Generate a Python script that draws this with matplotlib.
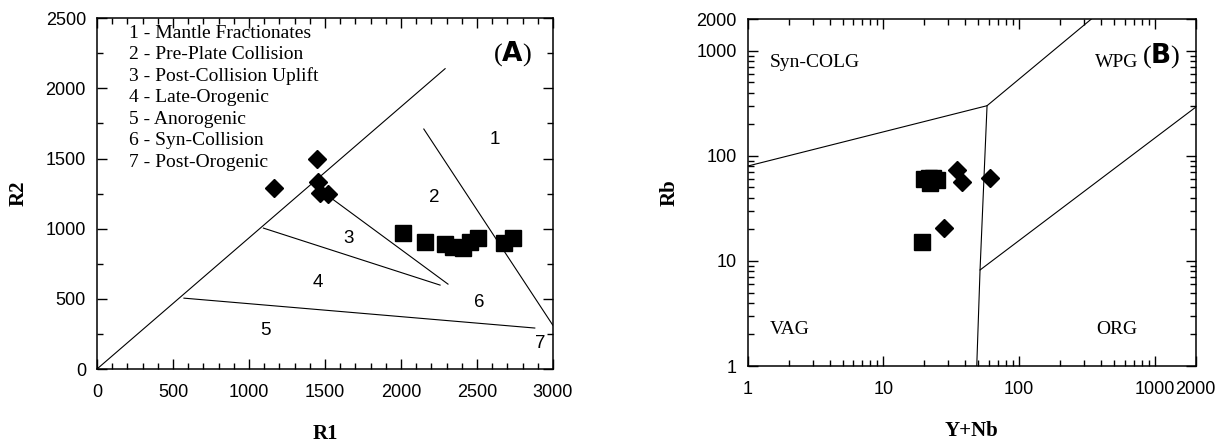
import matplotlib
matplotlib.use('Agg')
import matplotlib.pyplot as plt
from matplotlib.ticker import MultipleLocator, LogLocator, NullFormatter

plt.rcParams['font.family'] = ['Liberation Serif', 'DejaVu Serif']
plt.rcParams['mathtext.fontset'] = 'dejavusans'

# (A) R1-R2 diagram
sq_r1 = [2013, 2158, 2289, 2342, 2408, 2454, 2507, 2678, 2737]
sq_r2 = [969, 905, 890, 869, 862, 905, 933, 897, 933]
dm_r1 = [1165, 1447, 1454, 1467, 1520]
dm_r2 = [1289, 1495, 1332, 1254, 1246]

# field boundaries (R1, R2)
bnd_a = [
    ([0, 2290], [0, 2140]),
    ([2150, 3000], [1710, 310]),
    ([1450, 2309], [1290, 605]),
    ([1095, 2257], [1004, 598]),
    ([572, 2880], [505, 292]),
]
legend_a = ['1 - Mantle Fractionates', '2 - Pre-Plate Collision', '3 - Post-Collision Uplift',
            '4 - Late-Orogenic', '5 - Anorogenic', '6 - Syn-Collision', '7 - Post-Orogenic']
field_num = ['1', '2', '3', '4', '5', '6', '7']
field_x = [2618, 2217, 1658, 1454, 1105, 2513, 2914]
field_y = [1638, 1225, 933, 620, 278, 477, 185]

# (B) Y+Nb vs Rb
sq_ynb = [19.8, 21.5, 23.1, 24.7, 22.0, 19.2]
sq_rb = [60, 62, 61.5, 58.9, 55, 15.1]
dm_ynb = [34.7, 37.8, 60.7, 27.8]
dm_rb = [73.3, 56.3, 61.5, 20.6]
bnd_b = [
    ([1, 58, 340], [80, 300, 2000]),
    ([58, 51.5, 48.7], [300, 8.2, 1]),
    ([51.5, 2000], [8.2, 290]),
]
ticks_b = [1, 10, 100, 1000, 2000]

fig = plt.figure(figsize=(12.2, 4.43), dpi=100)

ax = fig.add_axes([0.0795, 0.167, 0.3738, 0.792])
for bx, by in bnd_a:
    ax.plot(bx, by, color='black', lw=0.8)
ax.plot(sq_r1, sq_r2, 's', color='black', ms=11, ls='none')
ax.plot(dm_r1, dm_r2, 'D', color='black', ms=9, ls='none')
ax.set_xlim(0, 3000)
ax.set_ylim(0, 2500)
ax.xaxis.set_major_locator(MultipleLocator(500))
ax.xaxis.set_minor_locator(MultipleLocator(100))
ax.yaxis.set_major_locator(MultipleLocator(500))
ax.yaxis.set_minor_locator(MultipleLocator(250))
for i, t in enumerate(legend_a):
    ax.text(0.07, 0.957 - i * 0.0612, t, transform=ax.transAxes, fontsize=14, va='center')
for n, fx, fy in zip(field_num, field_x, field_y):
    ax.text(fx, fy, n, fontsize=13.5, ha='center', va='center', family='Liberation Sans')
ax.text(0.912, 0.90, r'($\mathbf{A}$)', transform=ax.transAxes, fontsize=19, ha='center', va='center')
ax.set_xlabel('R1', fontsize=15, fontweight='bold', labelpad=16)
ax.set_ylabel('R2', fontsize=15, fontweight='bold', labelpad=12)

bx2 = fig.add_axes([0.613, 0.1738, 0.367, 0.783])
for bx, by in bnd_b:
    bx2.plot(bx, by, color='black', lw=0.8)
bx2.plot(sq_ynb, sq_rb, 's', color='black', ms=11, ls='none')
bx2.plot(dm_ynb, dm_rb, 'D', color='black', ms=9, ls='none')
bx2.set_xscale('log')
bx2.set_yscale('log')
bx2.set_xlim(1, 2000)
bx2.set_ylim(1, 2000)
bx2.set_xticks(ticks_b)
bx2.set_xticklabels([str(t) for t in ticks_b])
bx2.set_yticks(ticks_b)
bx2.set_yticklabels([str(t) for t in ticks_b])
bx2.xaxis.set_minor_locator(LogLocator(subs=range(2, 10)))
bx2.yaxis.set_minor_locator(LogLocator(subs=range(2, 10)))
bx2.xaxis.set_minor_formatter(NullFormatter())
bx2.yaxis.set_minor_formatter(NullFormatter())
bx2.text(0.049, 0.876, 'Syn-COLG', transform=bx2.transAxes, fontsize=14, va='center')
bx2.text(0.775, 0.876, 'WPG', transform=bx2.transAxes, fontsize=14, va='center')
bx2.text(0.049, 0.104, 'VAG', transform=bx2.transAxes, fontsize=14, va='center')
bx2.text(0.777, 0.104, 'ORG', transform=bx2.transAxes, fontsize=14, va='center')
bx2.text(0.924, 0.896, r'($\mathbf{B}$)', transform=bx2.transAxes, fontsize=19, ha='center', va='center')
bx2.set_xlabel('Y+Nb', fontsize=15, fontweight='bold', labelpad=16)
bx2.set_ylabel('Rb', fontsize=15, fontweight='bold', labelpad=12)

for a in (ax, bx2):
    a.tick_params(which='both', direction='in', top=True, right=True, width=1)
    a.tick_params(which='major', length=7)
    a.tick_params(which='minor', length=4)
    a.tick_params(axis='x', pad=11)
    a.tick_params(axis='y', pad=8)
    for lab in a.get_xticklabels() + a.get_yticklabels():
        lab.set_family('Liberation Sans')
        lab.set_fontsize(13)
    for s in a.spines.values():
        s.set_linewidth(1.1)

fig.savefig('out.png', dpi=100)
